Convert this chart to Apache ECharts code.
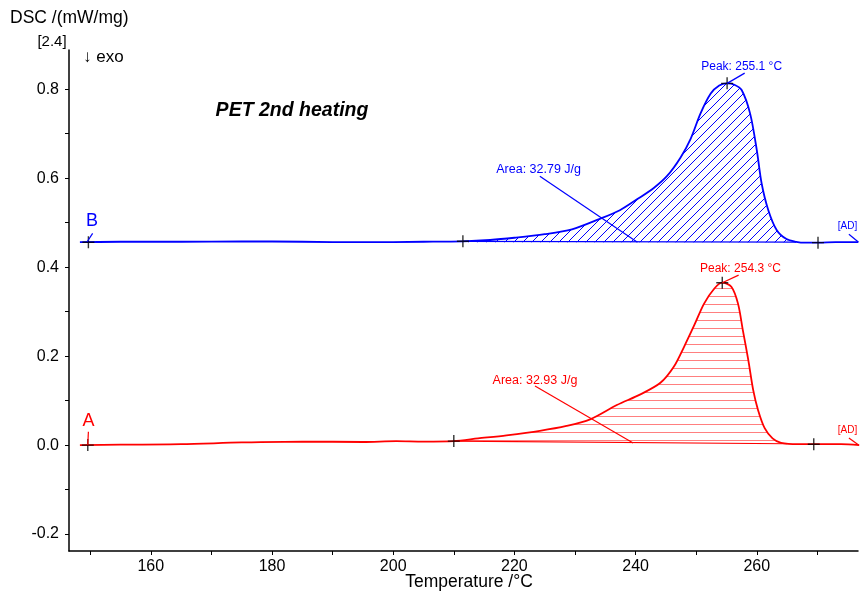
<!DOCTYPE html>
<html><head><meta charset="utf-8">
<script src="https://cdn.jsdelivr.net/npm/echarts@6/dist/echarts.min.js"></script>
<style>html,body{margin:0;padding:0;background:#fff}#c{width:860px;height:594px}</style>
</head><body><div id="c"></div>
<script>
// ---- data ----
const tempB = [148.3,155,165,175,185,195,205,211.5,216,220,225,229.5,234,237.4,240.3,243,245.2,247.4,249.1,250.7,252.4,253.8,255.1,256.3,257.5,258.9,260.0,260.8,261.9,263.3,264.9,266.5,268,270.2,273,276.7];
const dscB  = [0.456,0.457,0.457,0.458,0.457,0.456,0.457,0.458,0.461,0.466,0.474,0.485,0.508,0.528,0.553,0.578,0.605,0.646,0.689,0.745,0.790,0.808,0.813,0.810,0.798,0.745,0.663,0.588,0.528,0.483,0.463,0.457,0.455,0.455,0.456,0.456];
const tempA = [148.3,155,165,175,185,195,200.5,205,210,214,218.7,224.2,228.6,232.5,236.9,240.8,244.1,246.3,248.0,249.7,251.3,253.0,254.3,255.8,256.9,257.7,258.6,259.4,260.2,261.3,262.6,264.0,266.8,269.5,273.9,276.9];
const dscA  = [0.000,0.001,0.002,0.006,0.008,0.007,0.009,0.008,0.009,0.015,0.022,0.032,0.043,0.058,0.090,0.114,0.140,0.176,0.221,0.270,0.318,0.352,0.365,0.356,0.318,0.258,0.191,0.124,0.079,0.038,0.015,0.005,0.002,0.002,0.002,0.000];

const xTickValues  = [150,160,170,180,190,200,210,220,230,240,250,260,270];
const xLabelValues = [160,180,200,220,240,260];
const yTickValues  = [-0.2,-0.1,0,0.1,0.2,0.3,0.4,0.5,0.6,0.7,0.8];
const yLabelValues = [-0.2,0,0.2,0.4,0.6,0.8];

// evaluation points: [start, end] of integration, peak
const intB = [211.5, 266.5]; const baseB = [0.458, 0.456];
const intA = [210.0, 265.0]; const baseA = [0.009, 0.003];
const peakB = [255.1, 0.813];
const peakA = [254.3, 0.365];
const crossesB = [[149.7,0.456],[211.5,0.458],[270.1,0.455],[255.1,0.813]];
const crossesA = [[149.6,0.000],[210.0,0.009],[269.4,0.002],[254.3,0.365]];
const areaB = '32.79'; const areaA = '32.93';

// ---- helpers ----
const BLUE = '#0000ff', RED = '#ff0000';
const FONT = "'Liberation Sans', Arial, sans-serif";
function pairs(t, v) { return t.map((x, i) => [x, v[i]]); }
function within(t, v, r) { return pairs(t, v).filter(p => p[0] >= r[0] && p[0] <= r[1]); }

function hatchDiag(color) {
  const s = 9, c = document.createElement('canvas');
  c.width = s; c.height = s;
  const g = c.getContext('2d');
  g.strokeStyle = color; g.lineWidth = 1;
  g.beginPath();
  g.moveTo(0, s); g.lineTo(s, 0);
  g.moveTo(-1, 1); g.lineTo(1, -1);
  g.moveTo(s - 1, s + 1); g.lineTo(s + 1, s - 1);
  g.stroke();
  return c;
}
function hatchHoriz(color) {
  const c = document.createElement('canvas');
  c.width = 8; c.height = 8;
  const g = c.getContext('2d');
  g.fillStyle = color; g.fillRect(0, 0, 8, 1);
  return c;
}

const chart = echarts.init(document.getElementById('c'), null, {renderer: 'canvas'});

const crossSymbol = 'path://M0,5L10,5M5,0L5,10';

const option = {
  animation: false,
  backgroundColor: '#fff',
  grid: {left: 69, right: 2, top: 50, bottom: 43, containLabel: false},
  xAxis: {
    type: 'value', min: 146.5, max: 276.7,
    axisLine: {show: true, onZero: false, lineStyle: {color: '#000', width: 1.5}},
    axisTick: {show: true, length: 4, customValues: xTickValues, lineStyle: {color: '#000', width: 1}},
    axisLabel: {customValues: xLabelValues, color: '#000', fontSize: 16, fontFamily: FONT, margin: 8},
    splitLine: {show: false}
  },
  yAxis: {
    type: 'value', min: -0.238, max: 0.888,
    axisLine: {show: true, onZero: false, lineStyle: {color: '#000', width: 1.5}},
    axisTick: {show: true, length: 4, customValues: yTickValues, lineStyle: {color: '#000', width: 1}},
    axisLabel: {customValues: yLabelValues, color: '#000', fontSize: 16, fontFamily: FONT, margin: 10,
      formatter: v => (Math.abs(v) < 1e-9 ? 0 : v).toFixed(1)},
    splitLine: {show: false}
  },
  series: [
    {type: 'line', name: 'fillB', data: within(tempB, dscB, intB), showSymbol: false, smooth: 0.3,
     lineStyle: {width: 0}, areaStyle: {color: {image: hatchDiag(BLUE), repeat: 'repeat'}, opacity: 1, origin: 0.456}, z: 1},
    {type: 'line', name: 'fillA', data: within(tempA, dscA, intA), showSymbol: false, smooth: 0.3,
     lineStyle: {width: 0}, areaStyle: {color: {image: hatchHoriz('rgba(255,0,0,0.5)'), repeat: 'repeat'}, opacity: 1, origin: 0.006}, z: 1},
    {type: 'line', name: 'B', data: pairs(tempB, dscB), showSymbol: false, smooth: 0.3,
     lineStyle: {color: BLUE, width: 1.8}, z: 3},
    {type: 'line', name: 'A', data: pairs(tempA, dscA), showSymbol: false, smooth: 0.3,
     lineStyle: {color: RED, width: 1.8}, z: 3},
    {type: 'line', name: 'baseB', data: [[intB[0], baseB[0]], [intB[1], baseB[1]]], showSymbol: false,
     lineStyle: {color: BLUE, width: 1.2}, z: 2},
    {type: 'line', name: 'baseA', data: [[intA[0], baseA[0]], [intA[1], baseA[1]]], showSymbol: false,
     lineStyle: {color: RED, width: 1.2}, z: 2},
    {type: 'scatter', name: 'crosses', data: crossesB.concat(crossesA), symbol: crossSymbol, symbolSize: 12,
     itemStyle: {color: 'transparent', borderColor: '#000', borderWidth: 1.4}, z: 5}
  ]
};
chart.setOption(option);

// ---- annotations placed through the axes' scales ----
const P = p => chart.convertToPixel({xAxisIndex: 0, yAxisIndex: 0}, p);
const notes = [
  {text: 'Peak: ' + peakB[0].toFixed(1) + ' °C', at: [257.5, 0.851], color: BLUE, size: 12, line: [peakB, [258.0, 0.836]]},
  {text: 'Peak: ' + peakA[0].toFixed(1) + ' °C', at: [257.3, 0.396], color: RED, size: 12, line: [peakA, [257.0, 0.382]]},
  {text: 'Area: ' + areaB + ' J/g', at: [224.0, 0.620], color: BLUE, size: 12.5, line: [[224.2, 0.604], [240.3, 0.456]]},
  {text: 'Area: ' + areaA + ' J/g', at: [223.4, 0.1445], color: RED, size: 12.5, line: [[223.4, 0.133], [239.6, 0.0045]]},
  {text: '[AD]', at: [274.97, 0.492], color: BLUE, size: 10, line: [[275.2, 0.474], [276.8, 0.456]]},
  {text: '[AD]', at: [274.97, 0.034], color: RED, size: 10, line: [[275.2, 0.016], [276.8, 0.000]]},
  {text: 'B', at: [150.3, 0.504], color: BLUE, size: 18, line: [[149.5, 0.457], [150.4, 0.476]]},
  {text: 'A', at: [149.7, 0.055], color: RED, size: 18, line: [[149.6, 0.000], [149.7, 0.030]]}
];
const graphics = [];
notes.forEach(n => {
  const c = P(n.at);
  graphics.push({type: 'text', x: c[0], y: c[1], z: 10,
    style: {text: n.text, fill: n.color, font: n.size + 'px ' + FONT,
      textAlign: 'center', textVerticalAlign: 'middle', align: 'center', verticalAlign: 'middle'}});
  const a = P(n.line[0]), b = P(n.line[1]);
  graphics.push({type: 'line', z: 9, shape: {x1: a[0], y1: a[1], x2: b[0], y2: b[1]},
    style: {stroke: n.color, lineWidth: 1.2}});
});
const tp = P([183.3, 0.751]);
graphics.push({type: 'text', x: tp[0], y: tp[1], z: 10,
  style: {text: 'PET 2nd heating', fill: '#000', font: 'italic bold 19.5px ' + FONT,
    textAlign: 'center', textVerticalAlign: 'middle', align: 'center', verticalAlign: 'middle'}});
// axis titles
graphics.push({type: 'text', x: 10, y: 18, z: 10,
  style: {text: 'DSC /(mW/mg)', fill: '#000', font: '17.5px ' + FONT,
    textAlign: 'left', textVerticalAlign: 'middle', align: 'left', verticalAlign: 'middle'}});
graphics.push({type: 'text', x: 52, y: 42, z: 10,
  style: {text: '[2.4]', fill: '#000', font: '15px ' + FONT,
    textAlign: 'center', textVerticalAlign: 'middle', align: 'center', verticalAlign: 'middle'}});
graphics.push({type: 'text', x: 83, y: 57, z: 10,
  style: {text: '↓ exo', fill: '#000', font: '17px ' + FONT,
    textAlign: 'left', textVerticalAlign: 'middle', align: 'left', verticalAlign: 'middle'}});
graphics.push({type: 'text', x: 469, y: 582, z: 10,
  style: {text: 'Temperature /°C', fill: '#000', font: '17.5px ' + FONT,
    textAlign: 'center', textVerticalAlign: 'middle', align: 'center', verticalAlign: 'middle'}});
chart.setOption({graphic: graphics});
</script>
</body></html>
